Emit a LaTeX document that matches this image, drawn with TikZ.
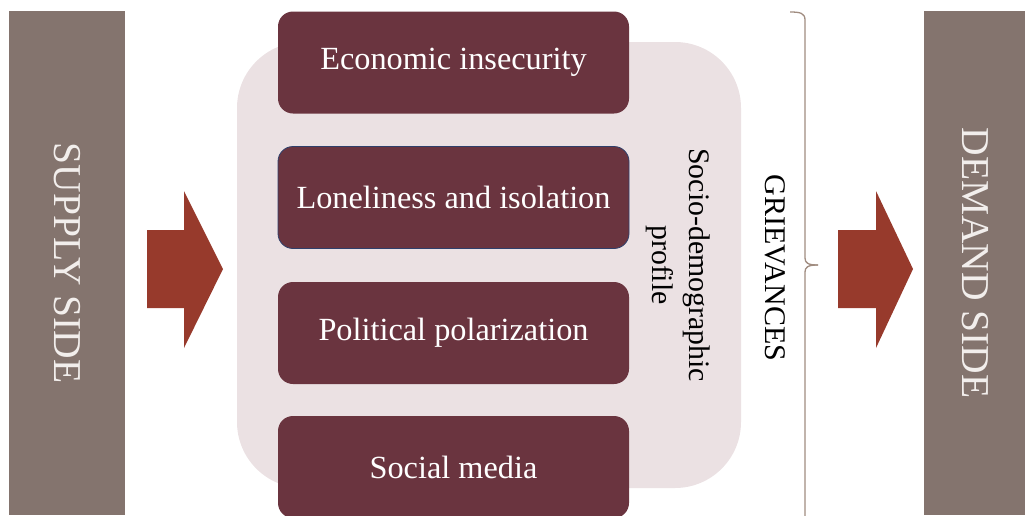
\documentclass[tikz,border=0pt]{standalone}
\usepackage{fontspec}
\setmainfont{Liberation Serif}
\definecolor{barcol}{HTML}{84746E}
\definecolor{arrowcol}{HTML}{973A2C}
\definecolor{pinkbg}{HTML}{EBE1E3}
\definecolor{boxcol}{HTML}{6A343F}
\definecolor{boxedge}{HTML}{2F3F6B}
\definecolor{bracecol}{HTML}{A08C80}
\definecolor{bartext}{HTML}{F2EEEC}
\tikzset{
  sidebar/.style={fill=barcol, draw=none, inner sep=0pt, rotate=-90, text=bartext,
    font=\fontsize{39.5}{44}\selectfont},
  darkbox/.style={fill=boxcol, draw=none, rounded corners=15pt, inner sep=0pt,
    minimum width=351pt, minimum height=102pt, text=white,
    font=\fontsize{32.3}{36}\selectfont},
  bigarrow/.style={fill=arrowcol, draw=none},
}
\begin{document}
\begin{tikzpicture}[x=1pt,y=-1pt]
\useasboundingbox (0,0) rectangle (1025,515);
% side bars
\node[sidebar, minimum width=504pt, minimum height=116pt] (supply) at (67,263) {SUPPLY SIDE};
\node[sidebar, minimum width=504pt, minimum height=102pt] (demand) at (975,263) {DEMAND SIDE};
% arrows
\fill[bigarrow] (147,230) -- (184,230) -- (184,191) -- (223,269) -- (184,348) -- (184,308) -- (147,308) -- cycle;
\fill[bigarrow] (838,230) -- (876,230) -- (876,191) -- (913,269) -- (876,348) -- (876,308) -- (838,308) -- cycle;
% pink background
\node[fill=pinkbg, rounded corners=66pt, minimum width=504pt, minimum height=446pt, inner sep=0pt] (profilebg) at (489,265) {};
% dark boxes
\node[darkbox] (econ) at (453.5,62.5) {Economic insecurity};
\node[darkbox, draw=boxedge, line width=0.8pt] (lonely) at (453.5,197.5) {Loneliness and isolation};
\node[darkbox] (polar) at (453.5,333) {Political polarization};
\node[darkbox] (social) at (453.5,467) {Social media};
% labels
\node[rotate=-90, align=center, font=\fontsize{29.8}{37}\selectfont] (socio) at (678,265) {Socio-demographic\\profile};
\node[rotate=-90, font=\fontsize{30}{34}\selectfont] (griev) at (775,268) {GRIEVANCES};
% brace
\coordinate (btop) at (790,12);
\coordinate (bmid) at (818,265);
\coordinate (bbot) at (805,520);
\draw[bracecol, line width=1.3pt] (btop) .. controls (800,12) and (805,13) .. (805,20) -- (805,258) .. controls (805,263) and (808,265) .. (bmid);
\draw[bracecol, line width=1.3pt] (bmid) .. controls (808,265) and (805,267) .. (805,272) -- (bbot);
\end{tikzpicture}
\end{document}
